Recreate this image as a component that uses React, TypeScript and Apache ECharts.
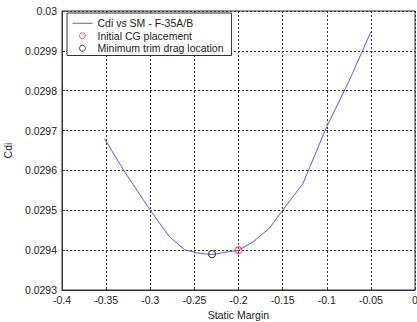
import React, { useEffect, useRef } from "react";
import * as echarts from "echarts";

// Induced drag coefficient against static margin
const staticMargin = [-0.352, -0.33, -0.3, -0.278, -0.261, -0.244, -0.23, -0.2, -0.184, -0.165, -0.15, -0.127, -0.1, -0.075, -0.05];
const cdi = [0.02968, 0.0296, 0.0295, 0.029433, 0.029401, 0.029392, 0.029389, 0.0294, 0.02942, 0.029455, 0.0295, 0.029567, 0.02971, 0.029823, 0.029948];

// Marked locations
const initialCG = [-0.2, 0.0294];
const minTrimDrag = [-0.23, 0.02939];

const seriesNames = ["Cdi vs SM - F-35A/B", "Initial CG placement", "Minimum trim drag location"];

const FONT = "'Liberation Sans', Arial, Helvetica, sans-serif";
const TEXT = "#222";
const LINE_BLUE = "#4a5cff";
const RED = "#ff3030";
const BLACK = "#222";

export default function App() {
  const ref = useRef<HTMLDivElement>(null);

  useEffect(() => {
    if (!ref.current) return;
    const chart = echarts.init(ref.current, undefined, { renderer: "svg" });
    const gridLine = { show: true, lineStyle: { color: "#333", type: [2, 2] as any, width: 1 } };
    chart.setOption({
      animation: false,
      backgroundColor: "#fff",
      textStyle: { fontFamily: FONT },
      grid: {
        left: 62,
        top: 11,
        right: 2,
        bottom: 32,
        show: true,
        borderColor: "#333",
        borderWidth: 1,
        backgroundColor: "#fff",
        containLabel: false,
        outerBoundsMode: "none",
      },
      legend: {
        orient: "vertical",
        left: 67,
        top: 13,
        padding: [4, 8, 1, 5],
        itemGap: 0,
        itemWidth: 20,
        itemHeight: 6,
        backgroundColor: "#fff",
        borderColor: "#333",
        borderWidth: 1,
        textStyle: { fontFamily: FONT, fontSize: 10.5, color: TEXT, lineHeight: 12.5 },
        data: [
          {
            name: seriesNames[0],
            itemStyle: { color: "transparent", borderColor: "transparent", borderWidth: 0 },
            lineStyle: { color: LINE_BLUE, width: 1 },
          },
          {
            name: seriesNames[1],
            icon: "circle",
            itemStyle: { color: "transparent", borderColor: RED, borderWidth: 1 },
          },
          {
            name: seriesNames[2],
            icon: "circle",
            itemStyle: { color: "transparent", borderColor: BLACK, borderWidth: 1 },
          },
        ],
      },
      xAxis: {
        type: "value",
        min: -0.4,
        max: 0,
        interval: 0.05,
        name: "Static Margin",
        nameLocation: "middle",
        nameGap: 18,
        nameTextStyle: { fontFamily: FONT, fontSize: 10.5, color: TEXT },
        axisLine: { show: true, onZero: false, lineStyle: { color: "#333" } },
        axisTick: { show: true, inside: true, length: 3, lineStyle: { color: "#333" } },
        axisLabel: {
          margin: 4,
          fontFamily: FONT,
          fontSize: 10.5,
          color: TEXT,
          formatter: (v: number) => String(+v.toFixed(2)),
        },
        splitLine: gridLine,
      },
      yAxis: {
        type: "value",
        min: 0.0293,
        max: 0.03,
        interval: 0.0001,
        name: "Cdi",
        nameLocation: "middle",
        nameGap: 32,
        nameTextStyle: { fontFamily: FONT, fontSize: 10.5, color: TEXT },
        axisLine: { show: true, onZero: false, lineStyle: { color: "#333" } },
        axisTick: { show: true, inside: true, length: 3, lineStyle: { color: "#333" } },
        axisLabel: {
          margin: 5,
          fontFamily: FONT,
          fontSize: 10.5,
          color: TEXT,
          formatter: (v: number) => String(+v.toFixed(4)),
        },
        splitLine: gridLine,
      },
      series: [
        {
          name: seriesNames[0],
          type: "line",
          data: staticMargin.map((x, i) => [x, cdi[i]]),
          symbol: "none",
          lineStyle: { color: LINE_BLUE, width: 1 },
          itemStyle: { color: LINE_BLUE },
          z: 3,
        },
        {
          name: seriesNames[1],
          type: "scatter",
          data: [initialCG],
          symbol: "circle",
          symbolSize: 7,
          itemStyle: { color: "transparent", borderColor: RED, borderWidth: 1.2 },
          z: 6,
        },
        {
          name: seriesNames[2],
          type: "scatter",
          data: [minTrimDrag],
          symbol: "circle",
          symbolSize: 7,
          itemStyle: { color: "transparent", borderColor: BLACK, borderWidth: 1.2 },
          z: 6,
        },
      ],
    });
    return () => chart.dispose();
  }, []);

  return (
    <div
      ref={ref}
      style={{ position: "fixed", left: 0, top: 0, width: 417, height: 322 }}
    />
  );
}
